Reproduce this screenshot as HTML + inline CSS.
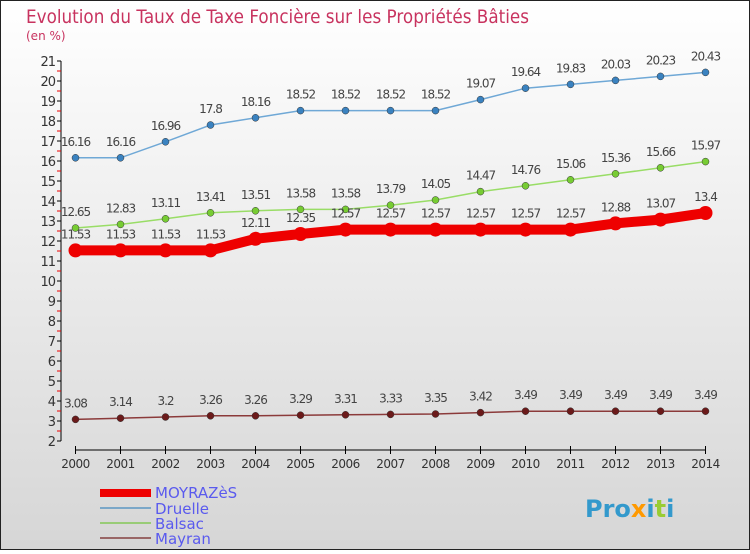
<!DOCTYPE html>
<html><head><meta charset="utf-8"><style>
body{margin:0;width:750px;height:550px;overflow:hidden;font-family:"DejaVu Sans","Liberation Sans",sans-serif}
svg text{font-family:"DejaVu Sans","Liberation Sans",sans-serif}
</style></head><body>
<svg id="c" width="750" height="550" xmlns="http://www.w3.org/2000/svg">
<defs><linearGradient id="bg" x1="0" y1="0" x2="0" y2="1"><stop offset="0" stop-color="#ffffff"/><stop offset="1" stop-color="#d6d6d6"/></linearGradient></defs>
<rect x="0.5" y="0.5" width="749" height="549" fill="url(#bg)" stroke="#222"/>
<text x="26" y="23" font-size="19" fill="#c8335f" textLength="503" lengthAdjust="spacingAndGlyphs">Evolution du Taux de Taxe Foncière sur les Propriétés Bâties</text>
<text x="26" y="40" font-size="12" fill="#c8335f">(en %)</text>
<g id="axes"></g><g id="series"></g>
<g>
<rect x="100" y="489" width="51" height="8" fill="#ee0000"/>
<text x="155" y="498" font-size="15" fill="#5a5aee">MOYRAZèS</text>
<rect x="100" y="507" width="51" height="2" fill="#7ba7c8"/>
<text x="155" y="514" font-size="15" fill="#5a5aee">Druelle</text>
<rect x="100" y="522" width="51" height="2" fill="#99cc77"/>
<text x="155" y="529" font-size="15" fill="#5a5aee">Balsac</text>
<rect x="100" y="537" width="51" height="2" fill="#996666"/>
<text x="155" y="544" font-size="15" fill="#5a5aee">Mayran</text>
</g>
<text x="585" y="517" font-size="24" font-weight="bold" fill="#3399cc">Pro<tspan fill="#ff9900">x</tspan>i<tspan fill="#99cc33">t</tspan>i</text>
</svg>
<script>
const years=[2000,2001,2002,2003,2004,2005,2006,2007,2008,2009,2010,2011,2012,2013,2014];
const moyrazes=[11.53,11.53,11.53,11.53,12.11,12.35,12.57,12.57,12.57,12.57,12.57,12.57,12.88,13.07,13.4];
const druelle=[16.16,16.16,16.96,17.8,18.16,18.52,18.52,18.52,18.52,19.07,19.64,19.83,20.03,20.23,20.43];
const balsac=[12.65,12.83,13.11,13.41,13.51,13.58,13.58,13.79,14.05,14.47,14.76,15.06,15.36,15.66,15.97];
const mayran=[3.08,3.14,3.2,3.26,3.26,3.29,3.31,3.33,3.35,3.42,3.49,3.49,3.49,3.49,3.49];
const yTicks=[2,3,4,5,6,7,8,9,10,11,12,13,14,15,16,17,18,19,20,21];
const NS="http://www.w3.org/2000/svg";
const X=i=>75.5+i*45, Y=v=>441-(v-2)*20;
function mk(p,t,a){const e=document.createElementNS(NS,t);for(const k in a)e.setAttribute(k,a[k]);p.appendChild(e);return e;}
const ax=document.getElementById('axes'), sg=document.getElementById('series');
const yl=mk(ax,'line',{x1:61,y1:Y(21),x2:61,y2:Y(2),stroke:'#000'});


yTicks.forEach(v=>{
 mk(ax,'line',{x1:57,x2:61,y1:Y(v),y2:Y(v),stroke:'#000'});
 if(v<21) mk(ax,'line',{x1:57,x2:61,y1:Y(v+0.5),y2:Y(v+0.5),stroke:'#e00'});
 const t=mk(ax,'text',{x:55,y:Y(v)+5,'font-size':13,'text-anchor':'end',fill:'#333','letter-spacing':'-1'});t.textContent=v;
 
 
});
const xl=mk(ax,'line',{x1:X(0),x2:X(14),y1:450,y2:450,stroke:'#000'});


years.forEach((y,i)=>{
 mk(ax,'line',{x1:X(i),x2:X(i),y1:446,y2:454,stroke:'#000'});
 const t=mk(ax,'text',{x:X(i),y:468,'font-size':12,'text-anchor':'middle',fill:'#333','letter-spacing':'-0.5'});t.textContent=y;
 
 
});
function series(vals,name,color,dot,w,r){
 const g=mk(sg,'g',{});
 
 
 mk(g,'polyline',{points:vals.map((v,i)=>X(i)+','+Y(v)).join(' '),fill:'none',stroke:color,'stroke-width':w});
 vals.forEach((v,i)=>{
  const c=mk(g,'circle',{cx:X(i),cy:Y(v),r:r,fill:dot,stroke:w>3?'none':'#333','stroke-width':0.5});
  
  
  const t=mk(g,'text',{x:X(i),y:Y(v)-12,'font-size':12,'text-anchor':'middle',fill:'#444','letter-spacing':'-1'});t.textContent=v;
  
  
 });
}
series(druelle,'druelle','#6fa8d6','#3a82c0',1.5,3.5);
series(balsac,'balsac','#99dd66','#77cc33',1.5,3.5);
series(mayran,'mayran','#8b3a3a','#6b1a1a',1.5,3.5);
series(moyrazes,'moyrazes','#ee0000','#ee0000',10,7);
</script>
</body></html>
